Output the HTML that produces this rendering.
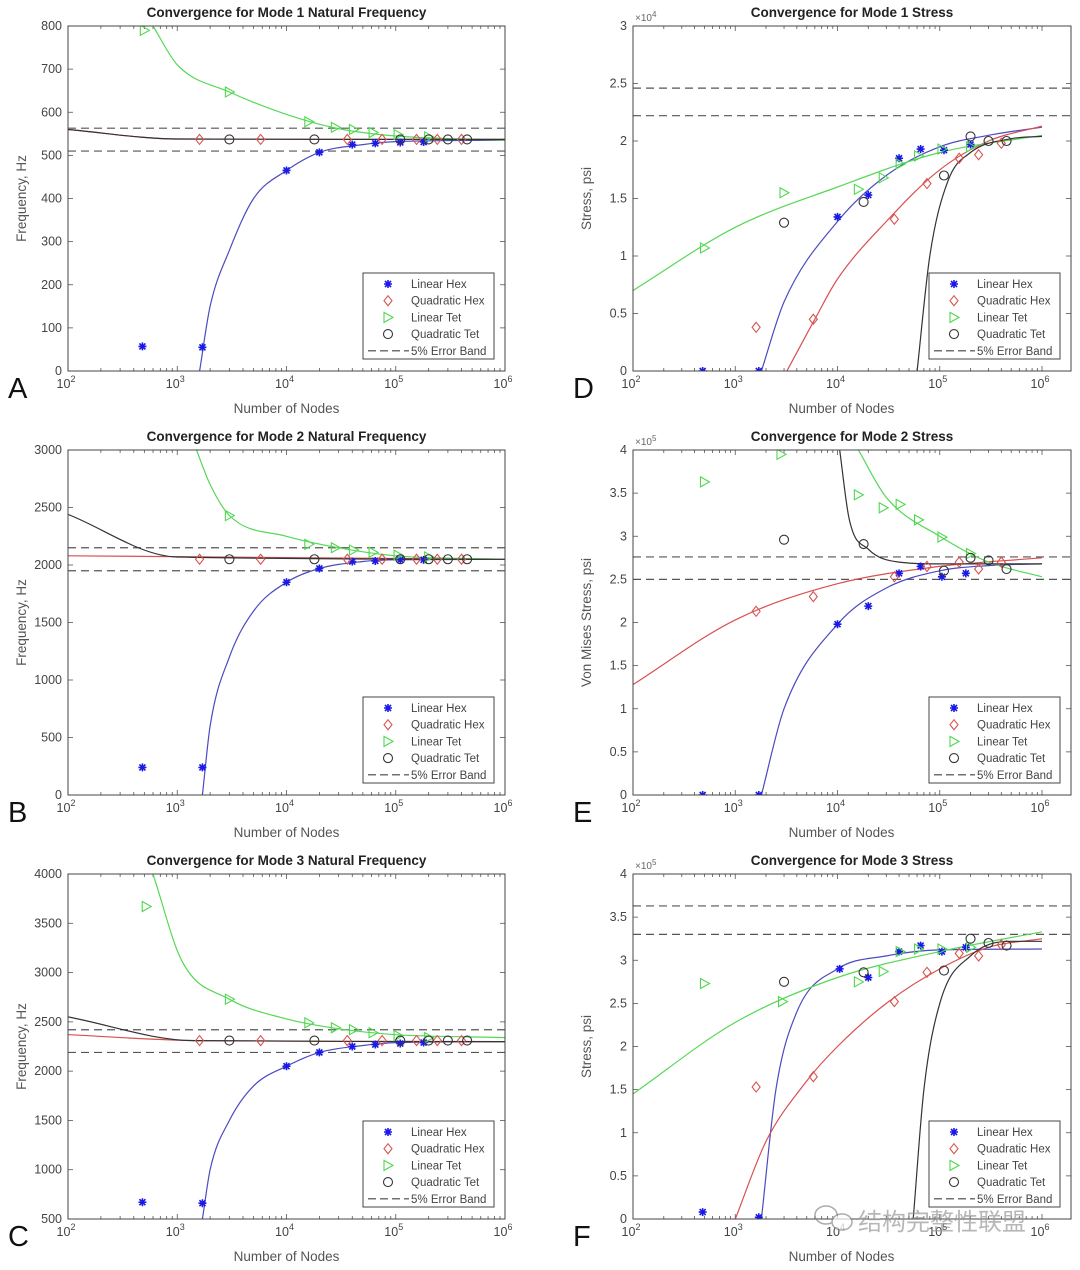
<!DOCTYPE html>
<html><head><meta charset="utf-8"><style>
html,body{margin:0;padding:0;background:#fff;}
svg{display:block;font-family:"Liberation Sans","Noto Sans CJK SC",sans-serif;}
</style></head><body>
<svg id="fig" width="1080" height="1270" viewBox="0 0 1080 1270" xmlns="http://www.w3.org/2000/svg"></svg>
<script>
// ---- Panel A: Mode 1 Natural Frequency ----
const A_lhN=[480,1700,1e4,2e4,4e4,6.5e4,1.1e5,1.8e5];
const A_lhV=[57,55,465,507,525,528,530,531];
const A_qhN=[1600,5800,3.6e4,7.5e4,1.55e5,2.4e5,4e5];
const A_qhV=[537,537,537,537,537,537,537];
const A_ltN=[500,3000,1.6e4,2.8e4,4.1e4,6.2e4,1.05e5,2e5];
const A_ltV=[790,647,578,565,560,553,548,543];
const A_qtN=[3000,1.8e4,1.1e5,2e5,3e5,4.5e5];
const A_qtV=[537,537,537,537,537,537];
const A_cbN=[1600,2000,3000,5000,1e4,2e4,5e4,1e5,1e6];
const A_cbV=[0,150,280,400,465,507,525,532,535];
const A_crN=[100,1000,1e6];const A_crV=[560,538,537];
const A_cgN=[600,1000,3000,1e4,3e4,1e5,1e6];
const A_cgV=[800,710,647,595,562,545,535];
const A_ckN=[100,1000,1e6];const A_ckV=[560,538,537];
const A_band=[563,510];
// ---- Panel D: Mode 1 Stress (x1e4) ----
const D_lhN=[480,1700,1e4,2e4,4e4,6.5e4,1.1e5,2e5];
const D_lhV=[0,0,1.34,1.53,1.85,1.93,1.92,1.97];
const D_qhN=[1600,5800,3.6e4,7.5e4,1.55e5,2.4e5,4e5];
const D_qhV=[0.38,0.45,1.32,1.63,1.85,1.88,1.98];
const D_ltN=[500,3000,1.6e4,2.8e4,4.1e4,6.2e4,1.05e5,2e5];
const D_ltV=[1.07,1.55,1.58,1.68,1.8,1.87,1.93,1.95];
const D_qtN=[3000,1.8e4,1.1e5,2e5,3e5,4.5e5];
const D_qtV=[1.29,1.47,1.7,2.04,2.0,2.0];
const D_cbN=[1800,3000,1e4,3e4,1e5,3e5,1e6];
const D_cbV=[0,0.6,1.3,1.7,1.95,2.05,2.12];
const D_crN=[3200,6000,1e4,3e4,1e5,3e5,1e6];
const D_crV=[0,0.45,0.8,1.3,1.75,2.0,2.13];
const D_cgN=[100,1000,1e4,1e5,1e6];
const D_cgV=[0.7,1.25,1.6,1.9,2.05];
const D_ckN=[6e4,8e4,1.2e5,2e5,5e5,1e6];
const D_ckV=[0,1.0,1.65,1.9,2.02,2.04];
const D_band=[2.46,2.22];
// ---- Panel B: Mode 2 Natural Frequency ----
const B_lhN=[480,1700,1e4,2e4,4e4,6.5e4,1.1e5,1.8e5];
const B_lhV=[240,240,1850,1970,2030,2035,2045,2045];
const B_qhN=[1600,5800,3.6e4,7.5e4,1.55e5,2.4e5,4e5];
const B_qhV=[2050,2050,2050,2050,2050,2050,2050];
const B_ltN=[3000,1.6e4,2.8e4,4.1e4,6.2e4,1.05e5,2e5];
const B_ltV=[2430,2180,2150,2130,2110,2085,2070];
const B_qtN=[3000,1.8e4,1.1e5,2e5,3e5,4.5e5];
const B_qtV=[2050,2050,2050,2050,2050,2050];
const B_cbN=[1700,2000,3000,5000,1e4,2e4,5e4,1e5,1e6];
const B_cbV=[0,600,1200,1600,1850,1970,2030,2045,2050];
const B_crN=[100,1e6];const B_crV=[2080,2050];
const B_cgN=[1500,2000,3000,1e4,3e4,1e5,1e6];
const B_cgV=[3000,2700,2430,2250,2150,2080,2050];
const B_ckN=[100,1000,1e6];const B_ckV=[2440,2070,2050];
const B_band=[2150,1950];
// ---- Panel E: Mode 2 Stress (x1e5) ----
const E_lhN=[480,1700,1e4,2e4,4e4,6.5e4,1.05e5,1.8e5];
const E_lhV=[0,0,1.98,2.19,2.57,2.65,2.53,2.57];
const E_qhN=[1600,5800,3.6e4,7.5e4,1.55e5,2.4e5,4e5];
const E_qhV=[2.13,2.3,2.53,2.65,2.7,2.62,2.7];
const E_ltN=[500,2800,1.6e4,2.8e4,4.1e4,6.2e4,1.05e5,2e5];
const E_ltV=[3.63,3.95,3.48,3.33,3.37,3.19,2.99,2.8];
const E_qtN=[3000,1.8e4,1.1e5,2e5,3e5,4.5e5];
const E_qtV=[2.96,2.91,2.6,2.75,2.72,2.62];
const E_cbN=[1800,3000,1e4,3e4,1e5,3e5,1e6];
const E_cbV=[0,1.0,1.98,2.4,2.6,2.66,2.68];
const E_crN=[100,1000,1e4,1e5,1e6];
const E_crV=[1.28,2.03,2.45,2.65,2.75];
const E_cgN=[1.6e4,3e4,1e5,3e5,1e6];
const E_cgV=[4.0,3.45,3.0,2.7,2.53];
const E_ckN=[1.05e4,1.3e4,2e4,4e4,1e5,1e6];
const E_ckV=[4.0,3.2,2.85,2.7,2.68,2.68];
const E_band=[2.76,2.5];
// ---- Panel C: Mode 3 Natural Frequency ----
const C_lhN=[480,1700,1e4,2e4,4e4,6.5e4,1.1e5,1.8e5];
const C_lhV=[670,660,2050,2190,2250,2270,2280,2290];
const C_qhN=[1600,5800,3.6e4,7.5e4,1.55e5,2.4e5,4e5];
const C_qhV=[2310,2310,2310,2310,2310,2310,2310];
const C_ltN=[520,3000,1.6e4,2.8e4,4.1e4,6.2e4,1.05e5,2e5];
const C_ltV=[3670,2730,2490,2440,2420,2390,2360,2340];
const C_qtN=[3000,1.8e4,1.1e5,2e5,3e5,4.5e5];
const C_qtV=[2310,2310,2310,2310,2310,2310];
const C_cbN=[1700,2000,3000,5000,1e4,2e4,5e4,1e5,1e6];
const C_cbV=[500,1000,1500,1850,2050,2190,2260,2290,2300];
const C_crN=[100,1500,1e6];const C_crV=[2370,2310,2300];
const C_cgN=[600,1100,3000,1e4,3e4,1e5,1e6];
const C_cgV=[4000,3120,2730,2530,2430,2370,2340];
const C_ckN=[100,1400,1e6];const C_ckV=[2550,2310,2300];
const C_band=[2420,2190];
// ---- Panel F: Mode 3 Stress (x1e5) ----
const F_lhN=[480,1700,1.05e4,2e4,4e4,6.5e4,1.05e5,1.8e5];
const F_lhV=[0.08,0.02,2.9,2.8,3.1,3.17,3.1,3.15];
const F_qhN=[1600,5800,3.6e4,7.5e4,1.55e5,2.4e5,4e5];
const F_qhV=[1.53,1.65,2.52,2.86,3.08,3.05,3.18];
const F_ltN=[500,2900,1.6e4,2.8e4,4.1e4,6.2e4,1.05e5,2e5];
const F_ltV=[2.73,2.52,2.75,2.87,3.1,3.13,3.13,3.15];
const F_qtN=[3000,1.8e4,1.1e5,2e5,3e5,4.5e5];
const F_qtV=[2.75,2.86,2.88,3.25,3.2,3.17];
const F_cbN=[1800,2500,4000,1e4,3e4,1e5,1e6];
const F_cbV=[0,1.5,2.4,2.9,3.05,3.12,3.13];
const F_crN=[1000,2000,5000,1e4,3e4,1e5,3e5,1e6];
const F_crV=[0,0.9,1.6,2.0,2.5,2.9,3.15,3.25];
const F_cgN=[100,1000,1e4,1e5,1e6];
const F_cgV=[1.45,2.28,2.8,3.1,3.33];
const F_ckN=[5.5e4,7e4,1e5,2e5,5e5,1e6];
const F_ckV=[0,1.5,2.5,3.05,3.22,3.22];
const F_band=[3.63,3.3];

const A_yTicks=[0,100,200,300,400,500,600,700,800];
const B_yTicks=[0,500,1000,1500,2000,2500,3000];
const C_yTicks=[500,1000,1500,2000,2500,3000,3500,4000];
const S3_yTicks=[0,0.5,1,1.5,2,2.5,3];
const S4_yTicks=[0,0.5,1,1.5,2,2.5,3,3.5,4];
const xTickExp=[2,3,4,5,6];
const legendLabels=["Linear Hex","Quadratic Hex","Linear Tet","Quadratic Tet","5% Error Band"];

const NS="http://www.w3.org/2000/svg";
const svg=document.getElementById('fig');
function mk(tag,attrs,parent){const e=document.createElementNS(NS,tag);for(const k in attrs)e.setAttribute(k,attrs[k]);(parent||svg).appendChild(e);return e;}
const COL={lh:"#1a1ae6",qh:"#d9534f",lt:"#4fd84f",qt:"#333333",cb:"#4b4bc0",cr:"#d85050",cg:"#55d855",ck:"#333333"};

// monotone cubic path through screen points (Fritsch-Carlson)
function smoothPath(P){
  const n=P.length;
  if(n<3)return 'M'+P.map(p=>p[0].toFixed(1)+','+p[1].toFixed(1)).join('L');
  const d=[],m=[];
  for(let i=0;i<n-1;i++)d.push((P[i+1][1]-P[i][1])/(P[i+1][0]-P[i][0]));
  m[0]=d[0];m[n-1]=d[n-2];
  for(let i=1;i<n-1;i++){m[i]=(d[i-1]*d[i]<=0)?0:(d[i-1]+d[i])/2;}
  for(let i=0;i<n-1;i++){
    if(d[i]===0){m[i]=0;m[i+1]=0;continue;}
    const a=m[i]/d[i],b=m[i+1]/d[i],s=a*a+b*b;
    if(s>9){const t=3/Math.sqrt(s);m[i]=t*a*d[i];m[i+1]=t*b*d[i];}
  }
  let s='M'+P[0][0].toFixed(1)+','+P[0][1].toFixed(1);
  for(let i=0;i<n-1;i++){
    const h=(P[i+1][0]-P[i][0])/3;
    s+='C'+(P[i][0]+h).toFixed(1)+','+(P[i][1]+m[i]*h).toFixed(1)+' '+(P[i+1][0]-h).toFixed(1)+','+(P[i+1][1]-m[i+1]*h).toFixed(1)+' '+P[i+1][0].toFixed(1)+','+P[i+1][1].toFixed(1);
  }
  return s;
}

const panels=[
 {id:"a",letter:"A",title:"Convergence for Mode 1 Natural Frequency",ylab:"Frequency, Hz",x0:68,x6:505,xr:505,yt:26,yb:371,ymin:0,ymax:800,ticks:A_yTicks,exp:null,d:{lhN:A_lhN,lhV:A_lhV,qhN:A_qhN,qhV:A_qhV,ltN:A_ltN,ltV:A_ltV,qtN:A_qtN,qtV:A_qtV,cbN:A_cbN,cbV:A_cbV,crN:A_crN,crV:A_crV,cgN:A_cgN,cgV:A_cgV,ckN:A_ckN,ckV:A_ckV,band:A_band}},
 {id:"d",letter:"D",title:"Convergence for Mode 1 Stress",ylab:"Stress, psi",x0:633,x6:1042,xr:1071,yt:26,yb:371,ymin:0,ymax:3,ticks:S3_yTicks,exp:"4",d:{lhN:D_lhN,lhV:D_lhV,qhN:D_qhN,qhV:D_qhV,ltN:D_ltN,ltV:D_ltV,qtN:D_qtN,qtV:D_qtV,cbN:D_cbN,cbV:D_cbV,crN:D_crN,crV:D_crV,cgN:D_cgN,cgV:D_cgV,ckN:D_ckN,ckV:D_ckV,band:D_band}},
 {id:"b",letter:"B",title:"Convergence for Mode 2 Natural Frequency",ylab:"Frequency, Hz",x0:68,x6:505,xr:505,yt:450,yb:795,ymin:0,ymax:3000,ticks:B_yTicks,exp:null,d:{lhN:B_lhN,lhV:B_lhV,qhN:B_qhN,qhV:B_qhV,ltN:B_ltN,ltV:B_ltV,qtN:B_qtN,qtV:B_qtV,cbN:B_cbN,cbV:B_cbV,crN:B_crN,crV:B_crV,cgN:B_cgN,cgV:B_cgV,ckN:B_ckN,ckV:B_ckV,band:B_band}},
 {id:"e",letter:"E",title:"Convergence for Mode 2 Stress",ylab:"Von Mises Stress, psi",x0:633,x6:1042,xr:1071,yt:450,yb:795,ymin:0,ymax:4,ticks:S4_yTicks,exp:"5",d:{lhN:E_lhN,lhV:E_lhV,qhN:E_qhN,qhV:E_qhV,ltN:E_ltN,ltV:E_ltV,qtN:E_qtN,qtV:E_qtV,cbN:E_cbN,cbV:E_cbV,crN:E_crN,crV:E_crV,cgN:E_cgN,cgV:E_cgV,ckN:E_ckN,ckV:E_ckV,band:E_band}},
 {id:"c",letter:"C",title:"Convergence for Mode 3 Natural Frequency",ylab:"Frequency, Hz",x0:68,x6:505,xr:505,yt:874,yb:1219,ymin:500,ymax:4000,ticks:C_yTicks,exp:null,d:{lhN:C_lhN,lhV:C_lhV,qhN:C_qhN,qhV:C_qhV,ltN:C_ltN,ltV:C_ltV,qtN:C_qtN,qtV:C_qtV,cbN:C_cbN,cbV:C_cbV,crN:C_crN,crV:C_crV,cgN:C_cgN,cgV:C_cgV,ckN:C_ckN,ckV:C_ckV,band:C_band}},
 {id:"f",letter:"F",title:"Convergence for Mode 3 Stress",ylab:"Stress, psi",x0:633,x6:1042,xr:1071,yt:874,yb:1219,ymin:0,ymax:4,ticks:S4_yTicks,exp:"5",d:{lhN:F_lhN,lhV:F_lhV,qhN:F_qhN,qhV:F_qhV,ltN:F_ltN,ltV:F_ltV,qtN:F_qtN,qtV:F_qtV,cbN:F_cbN,cbV:F_cbV,crN:F_crN,crV:F_crV,cgN:F_cgN,cgV:F_cgV,ckN:F_ckN,ckV:F_ckV,band:F_band}}
];

function marker(g,type,cx,cy){
  let e;
  if(type==="lh"){
    e=mk('path',{d:`M${cx-4},${cy}H${cx+4}M${cx},${cy-4}V${cy+4}M${cx-3},${cy-3}L${cx+3},${cy+3}M${cx-3},${cy+3}L${cx+3},${cy-3}`,stroke:COL.lh,'stroke-width':1.6,fill:'none'},g);
  }else if(type==="qh"){
    e=mk('path',{d:`M${cx},${cy-5}L${cx+4},${cy}L${cx},${cy+5}L${cx-4},${cy}Z`,stroke:COL.qh,'stroke-width':1.1,fill:'none'},g);
  }else if(type==="lt"){
    e=mk('path',{d:`M${cx-4},${cy-5}L${cx+5},${cy}L${cx-4},${cy+5}Z`,stroke:COL.lt,'stroke-width':1.1,fill:'none'},g);
  }else{
    e=mk('circle',{cx:cx,cy:cy,r:4.5,stroke:COL.qt,'stroke-width':1.1,fill:'none'},g);
  }
  return e;
}

panels.forEach(p=>{
  const g=mk('g',{});
  
  
  const X=n=>p.x0+(Math.log10(n)-2)/4*(p.x6-p.x0);
  const Y=v=>p.yb-(v-p.ymin)/(p.ymax-p.ymin)*(p.yb-p.yt);
  const cid='clip'+p.id;
  const cp=mk('clipPath',{id:cid},g);mk('rect',{x:p.x0,y:p.yt,width:p.xr-p.x0,height:p.yb-p.yt},cp);
  const tk=mk('g',{stroke:'#555','stroke-width':0.8},g);
  
  xTickExp.forEach(e=>{
    const x=X(Math.pow(10,e));
    mk('line',{x1:x,x2:x,y1:p.yb,y2:p.yb-5},tk);mk('line',{x1:x,x2:x,y1:p.yt,y2:p.yt+5},tk);
    if(e<6)for(let m=2;m<10;m++){const xm=X(m*Math.pow(10,e));mk('line',{x1:xm,x2:xm,y1:p.yb,y2:p.yb-3},tk);mk('line',{x1:xm,x2:xm,y1:p.yt,y2:p.yt+3},tk);}
    const t=mk('text',{x:x-2,y:p.yb+17,'font-size':12.5,fill:'#444','text-anchor':'middle'},g);
    
    t.textContent='10';const s=mk('tspan',{dy:-6,'font-size':9},t);s.textContent=String(e);
  });
  p.ticks.forEach(v=>{
    const y=Y(v);
    mk('line',{x1:p.x0,x2:p.x0+5,y1:y,y2:y},tk);mk('line',{x1:p.xr,x2:p.xr-5,y1:y,y2:y},tk);
    const t=mk('text',{x:p.x0-6,y:y+4,'font-size':12.5,fill:'#444','text-anchor':'end'},g);
    
    t.textContent=String(v);
  });
  if(p.exp){const t=mk('text',{x:p.x0+2,y:p.yt-5,'font-size':10,fill:'#666'},g);
    
    t.textContent='\u00d710';const s=mk('tspan',{dy:-4,'font-size':8},t);s.textContent=p.exp;}
  const plot=mk('g',{'clip-path':`url(#${cid})`},g);
  p.d.band.forEach(v=>{const l=mk('line',{x1:p.x0,x2:p.xr,y1:Y(v),y2:Y(v),stroke:'#555','stroke-width':1.2,'stroke-dasharray':'8,5'},plot);
    });
  [['cb','linear-hex'],['cr','quadratic-hex'],['cg','linear-tet'],['ck','quadratic-tet']].forEach(([k,nm])=>{
    const N=p.d[k+'N'],V=p.d[k+'V'];
    const P=N.map((n,i)=>[X(n),Y(V[i])]);
    const l=mk('path',{d:smoothPath(P),fill:'none',stroke:COL[k],'stroke-width':1.2},plot);
    
  });
  [['lh','linear-hex'],['qh','quadratic-hex'],['lt','linear-tet'],['qt','quadratic-tet']].forEach(([k,nm])=>{
    const N=p.d[k+'N'],V=p.d[k+'V'];
    N.forEach((n,i)=>{const m=marker(plot,k,X(n),Y(V[i]));
      });
  });
  const bx=mk('rect',{x:p.x0,y:p.yt,width:p.xr-p.x0,height:p.yb-p.yt,fill:'none',stroke:'#444','stroke-width':1},g);
  
  const cx=(p.x0+p.xr)/2;
  const tt=mk('text',{x:cx,y:p.yt-9,'font-size':13.5,'font-weight':'bold','text-anchor':'middle',fill:'#222'},g);
  tt.textContent=p.title;
  const xl=mk('text',{x:(p.x0+p.x6)/2+(p.xr>p.x6?4:0),y:p.yb+42,'font-size':13.5,'text-anchor':'middle',fill:'#555'},g);
  xl.textContent='Number of Nodes';
  const lx=p.x0-42,ly=(p.yt+p.yb)/2;
  const yl=mk('text',{x:lx,y:ly,'font-size':13.5,'text-anchor':'middle',fill:'#555',transform:`rotate(-90 ${lx} ${ly})`},g);
  yl.textContent=p.ylab;
  const lt=mk('text',{x:p.x0-60,y:p.yb+27,'font-size':29,fill:'#111'},g);
  lt.textContent=p.letter;
  const lg=mk('g',{},g);
  const L=p.xr-142,T=p.yb-98;
  mk('rect',{x:L,y:T,width:131,height:86,fill:'#fff',stroke:'#444','stroke-width':1},lg);
  ['lh','qh','lt','qt'].forEach((k,i)=>{const yy=T+11+i*16.7;const m=marker(lg,k,L+25,yy);
    
    const t=mk('text',{x:L+48,y:yy+4,'font-size':11.5,fill:'#444'},lg);
    t.textContent=legendLabels[i];});
  const yy=T+11+4*16.7;
  mk('line',{x1:L+5,x2:L+46,y1:yy,y2:yy,stroke:'#444','stroke-width':1.1,'stroke-dasharray':'8,4'},lg);
  const t5=mk('text',{x:L+48,y:yy+4,'font-size':11.5,fill:'#444'},lg);
  t5.textContent=legendLabels[4];
});
const wg=mk('g',{opacity:0.7});

mk('ellipse',{cx:826,cy:1215,rx:11,ry:9,fill:'none',stroke:'#888','stroke-width':1.5},wg);
mk('ellipse',{cx:842,cy:1222,rx:10,ry:8,fill:'#fff',stroke:'#888','stroke-width':1.5},wg);
const wt=mk('text',{x:858,y:1230,'font-size':24,fill:'#999','font-family':'"Liberation Sans","Noto Sans CJK SC",sans-serif'},wg);
wt.textContent='结构完整性联盟';
</script>
</body></html>
